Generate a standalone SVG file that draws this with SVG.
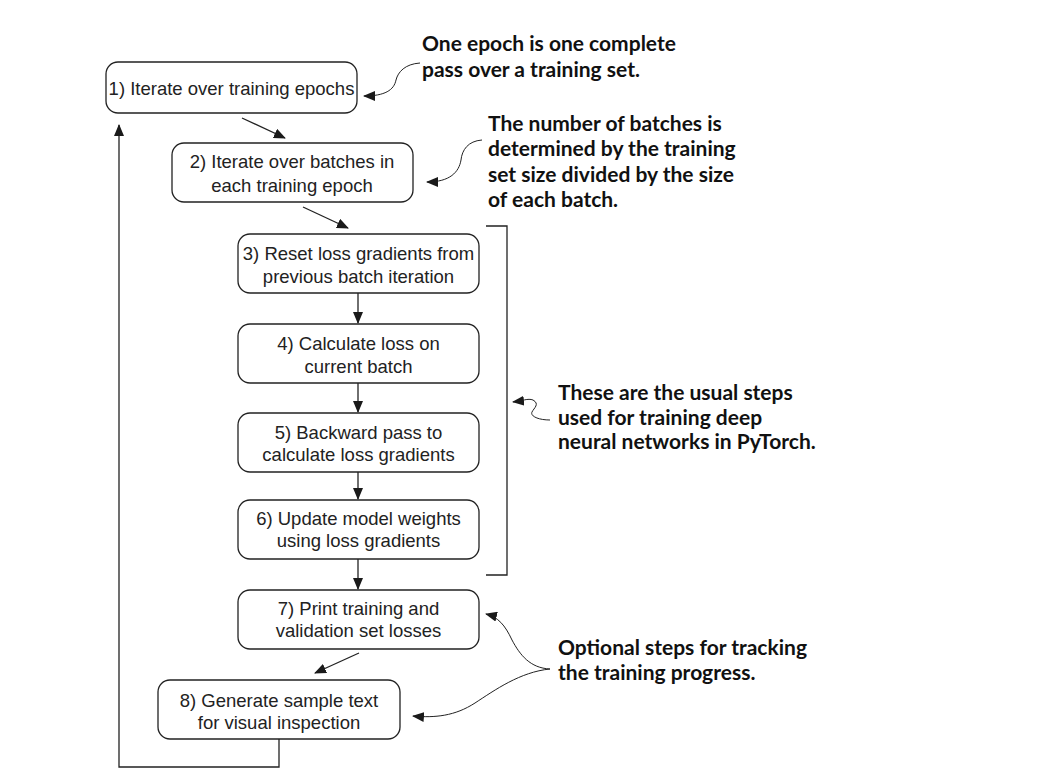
<svg xmlns="http://www.w3.org/2000/svg" width="1057" height="783" viewBox="0 0 1057 783">
<defs>
<marker id="ah" markerUnits="userSpaceOnUse" markerWidth="12" markerHeight="10" refX="11" refY="5" orient="auto">
<path d="M0,0 L12,5 L0,10 Z" fill="#1a1a1a"/>
</marker>
<style>
.box{fill:#fff;stroke:#222;stroke-width:1.3}
.t{font-family:"Liberation Sans",Arial,sans-serif;font-size:18.5px;fill:#222;text-anchor:middle}
.a{font-family:"Lato","Liberation Sans",sans-serif;font-weight:bold;font-size:21px;fill:#111}
.c{fill:none;stroke:#222;stroke-width:1.3}
.cv{fill:none;stroke:#222;stroke-width:1}
</style>
</defs>
<rect width="1057" height="783" fill="#fff"/>
<g id="connectors">
<line class="c" x1="242" y1="118" x2="285" y2="138" marker-end="url(#ah)"/>
<line class="c" x1="303" y1="207" x2="348" y2="228" marker-end="url(#ah)"/>
<line class="c" x1="358" y1="293" x2="358" y2="323" marker-end="url(#ah)"/>
<line class="c" x1="358" y1="383" x2="358" y2="412" marker-end="url(#ah)"/>
<line class="c" x1="358" y1="472" x2="358" y2="499" marker-end="url(#ah)"/>
<line class="c" x1="358" y1="559" x2="358" y2="589" marker-end="url(#ah)"/>
<line class="c" x1="359" y1="653" x2="315" y2="673" marker-end="url(#ah)"/>
<polyline class="c" points="279,739 279,767 119,767 119,125" marker-end="url(#ah)"/>
<polyline class="c" points="486,226 507,226 507,575 486,575"/>
<path class="cv" d="M420,63 C405,64 398,72 396,80 C394,90 385,96 364,96" marker-end="url(#ah)"/>
<path class="cv" d="M482,140 C468,141 462,150 461,160 C459,172 450,182 427,182" marker-end="url(#ah)"/>
<path class="cv" d="M550,420 C538,420 530,416 532,412 C534,408 540,404 533,400 C528,398 522,401 513,402" marker-end="url(#ah)"/>
<path class="cv" d="M550,669 C530,668 520,655 512,640 C505,625 498,617 486,614" marker-end="url(#ah)"/>
<path class="cv" d="M550,669 C520,672 495,690 475,703 C455,716 435,718 413,716" marker-end="url(#ah)"/>
</g>
<g id="n1"><rect class="box" x="106" y="62" width="251" height="51" rx="12"/><text class="t" x="231.5" y="95">1) Iterate over training epochs</text></g>
<g id="n2"><rect class="box" x="172" y="143" width="241" height="59" rx="12"/><text class="t" x="292" y="168">2) Iterate over batches in</text><text class="t" x="292" y="192">each training epoch</text></g>
<g id="n3"><rect class="box" x="238" y="234" width="241" height="59" rx="12"/><text class="t" x="358.5" y="260">3) Reset loss gradients from</text><text class="t" x="358.5" y="283">previous batch iteration</text></g>
<g id="n4"><rect class="box" x="238" y="324" width="241" height="59" rx="12"/><text class="t" x="358.5" y="350">4) Calculate loss on</text><text class="t" x="358.5" y="373">current batch</text></g>
<g id="n5"><rect class="box" x="238" y="413" width="241" height="59" rx="12"/><text class="t" x="358.5" y="439">5) Backward pass to</text><text class="t" x="358.5" y="461">calculate loss gradients</text></g>
<g id="n6"><rect class="box" x="238" y="500" width="241" height="59" rx="12"/><text class="t" x="358.5" y="525">6) Update model weights</text><text class="t" x="358.5" y="547">using loss gradients</text></g>
<g id="n7"><rect class="box" x="238" y="590" width="241" height="59" rx="12"/><text class="t" x="358.5" y="615">7) Print training and</text><text class="t" x="358.5" y="637">validation set losses</text></g>
<g id="n8"><rect class="box" x="158" y="680" width="242" height="59" rx="12"/><text class="t" x="279" y="707">8) Generate sample text</text><text class="t" x="279" y="729">for visual inspection</text></g>
<g id="note1"><text class="a" x="422" y="51">One epoch is one complete</text><text class="a" x="422" y="77">pass over a training set.</text></g>
<g id="note2"><text class="a" x="488" y="131">The number of batches is</text><text class="a" x="488" y="156">determined by the training</text><text class="a" x="488" y="182">set size divided by the size</text><text class="a" x="488" y="207">of each batch.</text></g>
<g id="note3"><text class="a" x="558" y="400">These are the usual steps</text><text class="a" x="558" y="425">used for training deep</text><text class="a" x="558" y="449">neural networks in PyTorch.</text></g>
<g id="note4"><text class="a" x="558" y="655">Optional steps for tracking</text><text class="a" x="558" y="680">the training progress.</text></g>
</svg>
